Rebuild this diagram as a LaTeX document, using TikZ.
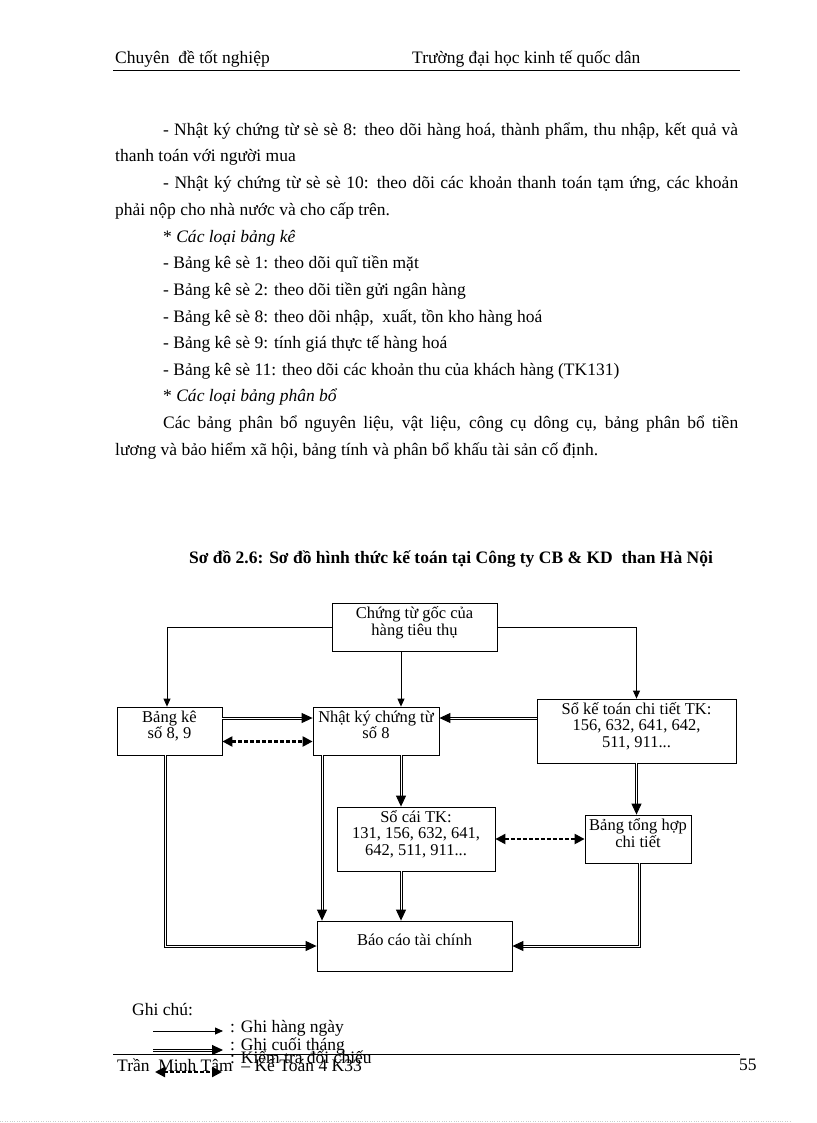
\documentclass[tikz,border=0pt]{standalone}
\usepackage{fontspec}
\setmainfont{Liberation Serif}
\usetikzlibrary{positioning, arrows.meta}

\begin{document}
\begin{tikzpicture}[x=1pt, y=-1pt,
      box/.style={rectangle, draw, line width=0.8pt, align=center, font=\fontsize{16.5}{16.5}\selectfont, inner sep=1pt, text depth=12pt},
      thinarr/.style={-{Triangle[length=8pt, width=7pt]}, line width=0.8pt},
      dblarr/.style={-{Triangle[length=11pt, width=10pt]}, line width=1pt, double, double distance=1pt},
      chkarr/.style={{Triangle[length=10pt, width=10pt]}-{Triangle[length=10pt, width=10pt]}, line width=2.2pt, dash pattern=on 4pt off 2pt},
      txt/.style={anchor=base west, inner sep=0pt, font=\fontsize{17.5}{20}\selectfont}
    ]
  \useasboundingbox (0,0) rectangle (816,1123);

  \node[txt] (hl) at (115,64) {Chuyên \ đề tốt nghiệp};
  \node[txt] (hr) at (412,64) {Trường đại học kinh tế quốc dân};
  \draw[line width=0.8pt] (113,70) -- (740,70);

  \node[txt] (l1) at (163,136) {\makebox[575pt][s]{- Nhật ký chứng từ sè sè 8: theo dõi hàng hoá, thành phẩm, thu nhập, kết quả và}};
  \node[txt] (l2) at (115,162) {thanh toán với người mua};
  \node[txt] (l3) at (163,189) {\makebox[575pt][s]{- Nhật ký chứng từ sè sè 10: theo dõi các khoản thanh toán tạm ứng, các khoản}};
  \node[txt] (l4) at (115,215) {phải nộp cho nhà nước và cho cấp trên.};
  \node[txt] (l5) at (163,242) {* \textit{Các loại bảng kê}};
  \node[txt] (l6) at (163,268) {- Bảng kê sè 1: theo dõi quĩ tiền mặt};
  \node[txt] (l7) at (163,295) {- Bảng kê sè 2: theo dõi tiền gửi ngân hàng};
  \node[txt] (l8) at (163,322) {- Bảng kê sè 8: theo dõi nhập, \ xuất, tồn kho hàng hoá};
  \node[txt] (l9) at (163,348) {- Bảng kê sè 9: tính giá thực tế hàng hoá};
  \node[txt] (l10) at (163,375) {- Bảng kê sè 11: theo dõi các khoản thu của khách hàng (TK131)};
  \node[txt] (l11) at (163,401) {* \textit{Các loại bảng phân bổ}};
  \node[txt] (l12) at (163,428) {\makebox[575pt][s]{Các bảng phân bổ nguyên liệu, vật liệu, công cụ dông cụ, bảng phân bổ tiền}};
  \node[txt] (l13) at (115,455) {lương và bảo hiểm xã hội, bảng tính và phân bổ khấu tài sản cố định.};

  \node[txt, anchor=base, font=\fontsize{17.5}{20}\selectfont\bfseries] (title) at (451,563) {Sơ đồ 2.6: Sơ đồ hình thức kế toán tại Công ty CB \& KD \ than Hà Nội};

  \node[box, minimum width=165, minimum height=48] (goc) at (414.5,627) {Chứng từ gốc của\\ hàng tiêu thụ};
  \node[box, minimum width=105, minimum height=48] (bangke) at (169.5,731) {Bảng kê\\ số 8, 9};
  \node[box, minimum width=126, minimum height=48] (nkct) at (376,731) {Nhật ký chứng từ\\ số 8};
  \node[box, minimum width=199, minimum height=64] (sochitiet) at (636.5,731) {Sổ kế toán chi tiết TK:\\ 156, 632, 641, 642,\\ 511, 911...};
  \node[box, minimum width=158, minimum height=64] (socai) at (416,839) {Sổ cái TK:\\ 131, 156, 632, 641,\\ 642, 511, 911...};
  \node[box, minimum width=106, minimum height=48] (tonghop) at (638,839) {Bảng tổng hợp\\ chi tiết};
  \node[box, minimum width=195, minimum height=50] (baocao) at (414.5,946) {Báo cáo tài chính};

  \coordinate (mid) at (401,0);
  \coordinate (lft) at (322,0);

  \draw[thinarr] (goc.west) -| ([xshift=-2.5pt]bangke.north);
  \draw[thinarr] (goc.east) -| (sochitiet.north);
  \draw[thinarr] (goc.south -| mid) -- (nkct.north -| mid);

  \draw[dblarr] ([yshift=13pt]bangke.east) -- ([yshift=13pt]nkct.west);
  \draw[chkarr] ([yshift=-10.5pt]bangke.east) -- ([yshift=-10.5pt]nkct.west);
  \draw[dblarr] ([yshift=13pt]sochitiet.west) -- ([yshift=13pt]nkct.east);
  \draw[dblarr] (nkct.south -| mid) -- (socai.north -| mid);
  \draw[dblarr] (nkct.south -| lft) -- (baocao.north -| lft);
  \draw[dblarr] ([xshift=-4.5pt]bangke.south) |- (baocao.west);
  \draw[dblarr] (socai.south -| mid) -- (baocao.north -| mid);
  \draw[dblarr] (sochitiet.south) -- (sochitiet.south |- tonghop.north);
  \draw[chkarr] (socai.east) -- (tonghop.west);
  \draw[dblarr] ([xshift=1pt]tonghop.south) |- (baocao.east);

  \node[txt] (ghichu) at (132,1015) {Ghi chú:};
  \coordinate (a1) at (153,1031);
  \coordinate (b1) at (223,1031);
  \coordinate (a2) at (153,1050);
  \coordinate (b2) at (223,1050);
  \coordinate (a3) at (155,1072);
  \coordinate (b3) at (222,1072);
  \draw[thinarr] (a1) -- (b1);
  \draw[dblarr] (a2) -- (b2);
  \draw[chkarr] (a3) -- (b3);
  \node[txt] (g1) at (230,1032) {: Ghi hàng ngày};
  \node[txt] (g2) at (230,1050) {: Ghi cuối tháng};
  \node[txt] (g3) at (230,1063) {: Kiểm tra đối chiếu};

  \draw[line width=0.8pt] (113,1054) -- (740,1054);
  \node[txt] (tg) at (117,1071) {Trần \ Minh Tâm \ -- Kế Toán 4 K33};
  \node[txt] (trang) at (739,1070) {55};
  \draw[gray!40, dotted] (0,1121) -- (790,1121);
\end{tikzpicture}
\end{document}
